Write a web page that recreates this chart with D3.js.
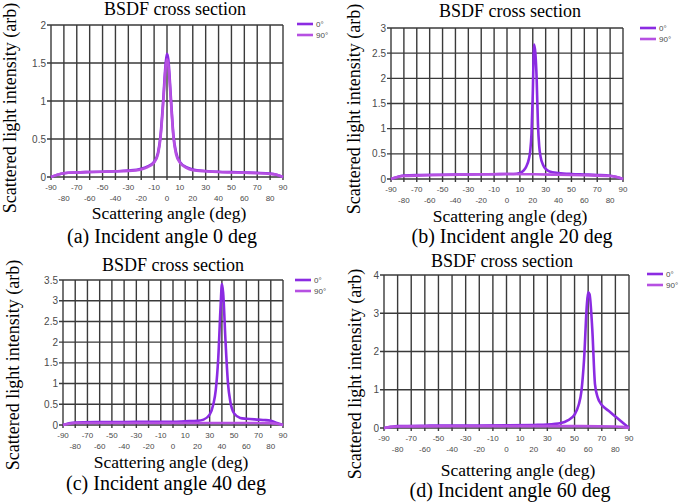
<!DOCTYPE html>
<html>
<head>
<meta charset="utf-8">
<script src="https://cdn.jsdelivr.net/npm/d3@7"></script>
<style>
  body { margin: 0; background: #fff; }
  svg { display: block; }
</style>
</head>
<body>
<div id="chart"></div>
<script>
// x tick labels (shared by all four panels)
const xTicks = [-90, -80, -70, -60, -50, -40, -30, -20, -10, 0, 10, 20, 30, 40, 50, 60, 70, 80, 90];
const seriesNames = ["0°", "90°"];

// (a) incident angle 0 deg
const angA0 = [-90, -85, -80, -70, -60, -50, -40, -30, -20, -15, -10, -7, -5, -3, -1, 0, 1, 3, 5, 7, 10, 15, 20, 30, 40, 50, 60, 70, 80, 85, 90];
const valA0 = [0, 0.03, 0.05, 0.06, 0.065, 0.07, 0.075, 0.085, 0.11, 0.14, 0.2, 0.32, 0.55, 1.0, 1.5, 1.62, 1.55, 1.05, 0.55, 0.33, 0.2, 0.13, 0.1, 0.08, 0.07, 0.065, 0.06, 0.055, 0.045, 0.03, 0];
const angA90 = angA0;
const valA90 = [0, 0.03, 0.05, 0.06, 0.065, 0.07, 0.075, 0.08, 0.1, 0.13, 0.19, 0.3, 0.52, 0.95, 1.45, 1.55, 1.48, 1.0, 0.52, 0.3, 0.19, 0.12, 0.09, 0.075, 0.065, 0.06, 0.055, 0.05, 0.04, 0.03, 0];
const yTicksA = [0, 0.5, 1, 1.5, 2];

// (b) incident angle 20 deg
const angB0 = [-90, -85, -80, -70, -50, -30, -10, 0, 5, 10, 13, 15, 17, 18, 19, 20, 21, 22, 23, 24, 25, 26, 28, 30, 33, 40, 50, 60, 70, 80, 85, 90];
const valB0 = [0, 0.04, 0.07, 0.08, 0.085, 0.09, 0.095, 0.1, 0.1, 0.12, 0.17, 0.25, 0.4, 0.55, 0.9, 1.7, 2.67, 2.5, 2.0, 1.1, 0.65, 0.45, 0.28, 0.2, 0.15, 0.12, 0.1, 0.09, 0.08, 0.065, 0.04, 0];
const angB90 = [-90, -85, -80, -60, -30, 0, 20, 40, 60, 80, 85, 90];
const valB90 = [0, 0.04, 0.06, 0.075, 0.09, 0.1, 0.095, 0.085, 0.075, 0.06, 0.04, 0];
const yTicksB = [0, 0.5, 1, 1.5, 2, 2.5, 3];

// (c) incident angle 40 deg
const angC0 = [-90, -85, -80, -60, -30, 0, 10, 20, 25, 30, 33, 35, 37, 39, 40, 41, 43, 45, 47, 50, 55, 60, 70, 75, 80, 85, 90];
const valC0 = [0, 0.04, 0.06, 0.07, 0.075, 0.08, 0.09, 0.1, 0.13, 0.25, 0.5, 0.85, 1.6, 2.9, 3.4, 3.2, 2.0, 1.0, 0.55, 0.28, 0.17, 0.15, 0.13, 0.12, 0.1, 0.05, 0];
const angC90 = [-90, -85, -80, -40, 0, 40, 80, 85, 90];
const valC90 = [0, 0.03, 0.05, 0.05, 0.05, 0.05, 0.045, 0.03, 0];
const yTicksC = [0, 0.5, 1, 1.5, 2, 2.5, 3, 3.5];

// (d) incident angle 60 deg
const angD0 = [-90, -85, -80, -60, -30, 0, 20, 30, 40, 45, 50, 53, 55, 57, 59, 60, 61, 63, 65, 67, 69, 70, 75, 80, 85, 90];
const valD0 = [0, 0.03, 0.05, 0.06, 0.065, 0.07, 0.08, 0.09, 0.13, 0.2, 0.35, 0.6, 0.95, 1.8, 3.2, 3.55, 3.5, 2.6, 1.15, 0.8, 0.65, 0.6, 0.45, 0.3, 0.15, 0];
const angD90 = [-90, -85, -80, -40, 0, 40, 80, 85, 90];
const valD90 = [0, 0.03, 0.04, 0.045, 0.05, 0.05, 0.04, 0.03, 0];
const yTicksD = [0, 1, 2, 3, 4];

const colors = ["#8b2be2", "#b650e2"];

// panel layout (pixel boxes)
const panels = [
    { box: [51, 25, 283, 177], yTicks: yTicksA, series: [[angA0, valA0], [angA90, valA90]],
      caption: "(a) Incident angle 0 deg", titleX: 175, titleY: 15, yLab: [10, 108], xLab: [169, 219], capY: 243, capX: 162, leg: [297, 24] },
    { box: [391, 28, 623, 179], yTicks: yTicksB, series: [[angB0, valB0], [angB90, valB90]],
      caption: "(b) Incident angle 20 deg", titleX: 510, titleY: 17, yLab: [354, 109], xLab: [510, 222], capY: 243, capX: 512, leg: [640, 28] },
    { box: [63, 280, 283, 425], yTicks: yTicksC, series: [[angC0, valC0], [angC90, valC90]],
      caption: "(c) Incident angle 40 deg", titleX: 173, titleY: 271, yLab: [13, 365], xLab: [171, 468], capY: 490, capX: 166, leg: [295, 280] },
    { box: [384, 275, 629, 428], yTicks: yTicksD, series: [[angD0, valD0], [angD90, valD90]],
      caption: "(d) Incident angle 60 deg", titleX: 502, titleY: 267, yLab: [355, 374], xLab: [518, 476], capY: 497, capX: 510, leg: [647, 274] }
];

const svg = d3.select("#chart").append("svg")
    .attr("width", 685)
    .attr("height", 502);

const serif = "'Liberation Serif', 'Times New Roman', serif";
const sans = "'Liberation Sans', Arial, sans-serif";

panels.forEach((p) => {
    const [x0, y0, x1, y1] = p.box;
    const yMax = p.yTicks[p.yTicks.length - 1];

    const xScale = d3.scaleLinear().domain([-90, 90]).range([x0, x1]);
    const yScale = d3.scaleLinear().domain([0, yMax]).range([y1, y0]);

    const g = svg.append("g");

    // vertical grid lines, extending slightly below the axis as tick marks
    g.selectAll(".vgrid")
        .data(xTicks)
        .enter()
        .append("line")
        .attr("x1", (d) => xScale(d))
        .attr("x2", (d) => xScale(d))
        .attr("y1", y0)
        .attr("y2", y1 + 3)
        .attr("stroke", "#3a3a3a")
        .attr("stroke-width", 1.4);

    // horizontal grid lines, extending left as tick marks
    g.selectAll(".hgrid")
        .data(p.yTicks)
        .enter()
        .append("line")
        .attr("x1", x0 - 4)
        .attr("x2", x1)
        .attr("y1", (d) => yScale(d))
        .attr("y2", (d) => yScale(d))
        .attr("stroke", "#3a3a3a")
        .attr("stroke-width", 1.4);

    // y tick labels
    g.selectAll(".ylab")
        .data(p.yTicks)
        .enter()
        .append("text")
        .attr("x", x0 - 5)
        .attr("y", (d) => yScale(d) + 3.5)
        .attr("text-anchor", "end")
        .style("font-family", sans)
        .style("font-size", "10px")
        .style("fill", "#4a4a4a")
        .text((d) => d);

    // x tick labels, staggered in two rows
    g.selectAll(".xlab")
        .data(xTicks)
        .enter()
        .append("text")
        .attr("x", (d) => xScale(d))
        .attr("y", (d, i) => y1 + (i % 2 === 0 ? 13 : 24))
        .attr("text-anchor", "middle")
        .style("font-family", sans)
        .style("font-size", "8px")
        .style("fill", "#4a4a4a")
        .text((d) => d);

    // curves
    const line = d3.line()
        .x((d) => xScale(d[0]))
        .y((d) => yScale(d[1]))
        .curve(d3.curveMonotoneX);

    p.series.forEach(([angs, vals], k) => {
        g.append("path")
            .datum(angs.map((a, i) => [a, vals[i]]))
            .attr("d", line)
            .attr("fill", "none")
            .attr("stroke", colors[k])
            .attr("stroke-width", 2.6)
            .attr("stroke-linejoin", "round");
    });

    // legend
    seriesNames.forEach((name, k) => {
        const ly = p.leg[1] + k * 11;
        g.append("line")
            .attr("x1", p.leg[0])
            .attr("x2", p.leg[0] + 16)
            .attr("y1", ly)
            .attr("y2", ly)
            .attr("stroke", colors[k])
            .attr("stroke-width", 2.6);
        g.append("text")
            .attr("x", p.leg[0] + 19)
            .attr("y", ly + 3)
            .style("font-family", sans)
            .style("font-size", "8px")
            .style("fill", "#4a4a4a")
            .text(name);
    });

    // title
    g.append("text")
        .attr("x", p.titleX)
        .attr("y", p.titleY)
        .attr("text-anchor", "middle")
        .style("font-family", serif)
        .style("font-size", "18px")
        .text("BSDF cross section");

    // y axis label
    g.append("text")
        .attr("transform", `translate(${p.yLab[0] + 6}, ${p.yLab[1]}) rotate(-90)`)
        .attr("text-anchor", "middle")
        .style("font-family", serif)
        .style("font-size", "18px")
        .text("Scattered light intensity (arb)");

    // x axis label
    g.append("text")
        .attr("x", p.xLab[0])
        .attr("y", p.xLab[1])
        .attr("text-anchor", "middle")
        .style("font-family", serif)
        .style("font-size", "17.5px")
        .text("Scattering angle (deg)");

    // caption
    g.append("text")
        .attr("x", p.capX)
        .attr("y", p.capY)
        .attr("text-anchor", "middle")
        .style("font-family", serif)
        .style("font-size", "20px")
        .text(p.caption);
});
</script>
</body>
</html>
